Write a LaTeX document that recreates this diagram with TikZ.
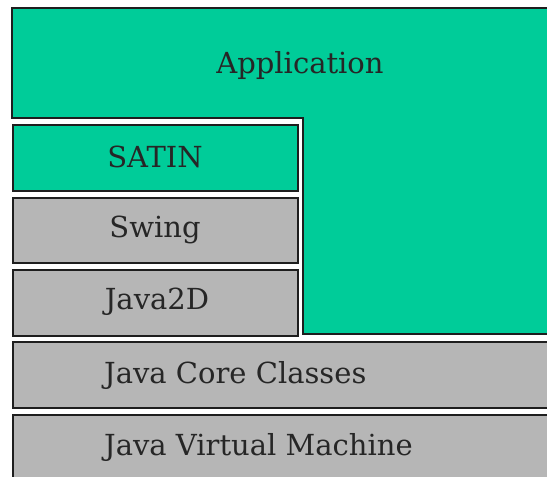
\documentclass[tikz,border=0pt]{standalone}
\usepackage{fontspec}
\setmainfont{DejaVu Serif}
\definecolor{appgreen}{RGB}{0,204,153}
\definecolor{layergray}{RGB}{182,182,182}
\definecolor{edge}{RGB}{30,30,30}
\begin{document}
\begin{tikzpicture}[x=1pt,y=1pt,
  layer/.style={draw=edge,line width=1.6pt,anchor=north west,inner sep=0pt},
  lbl/.style={font=\fontsize{29}{34}\selectfont,text=black!85,inner sep=0pt}]
\useasboundingbox (0,0) rectangle (547,-477);
\clip (0,0) rectangle (547,-477);
\fill[white] (0,0) rectangle (547,-477);
% Application (L-shaped)
\draw[draw=edge,line width=1.6pt,fill=appgreen]
  (12,-8) -- (570,-8) -- (570,-334) -- (303,-334) -- (303,-118) -- (12,-118) -- cycle;
\node[lbl] (app) at (300,-65) {Application};
% left stack
\node[layer,fill=appgreen,minimum width=285pt,minimum height=66pt] (satinbox) at (12,-124) {};
\node[lbl] (satin) at (155,-157) {SATIN};
\node[layer,fill=layergray,minimum width=285pt,minimum height=65pt] (swingbox) at (12,-197) {};
\node[lbl] (swing) at (155,-230) {Swing};
\node[layer,fill=layergray,minimum width=285pt,minimum height=66pt] (j2dbox) at (12,-269) {};
\node[lbl] (j2d) at (157,-302) {Java2D};
% full-width layers
\node[layer,fill=layergray,minimum width=570pt,minimum height=66pt] (corebox) at (12,-341) {};
\node[lbl,anchor=west] (core) at (104,-375) {Java Core Classes};
\node[layer,fill=layergray,minimum width=570pt,minimum height=80pt] (jvmbox) at (12,-414) {};
\node[lbl,anchor=west] (jvm) at (104,-447) {Java Virtual Machine};
\end{tikzpicture}
\end{document}
